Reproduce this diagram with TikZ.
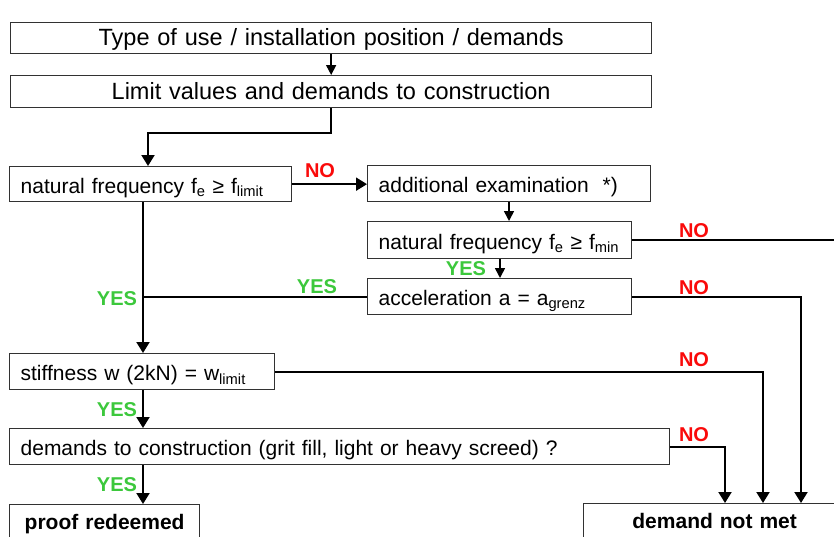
\documentclass[tikz,border=0pt]{standalone}
\usepackage{fontspec}
\setmainfont{Liberation Sans}
\usetikzlibrary{arrows.meta}
\definecolor{nored}{RGB}{250,10,10}
\definecolor{yesgreen}{RGB}{60,200,60}
\definecolor{boxline}{RGB}{50,50,50}
\begin{document}
\begin{tikzpicture}[x=1pt,y=-1pt,
  box/.style={draw=boxline, line width=1.3pt, anchor=north west, inner xsep=11pt, inner ysep=0pt,
    align=left, font=\fontsize{21}{25}\selectfont, text height=21pt, text depth=3pt},
  topbox/.style={box, align=center, font=\fontsize{23.5}{28}\selectfont, text height=19pt, text depth=4pt},
  endbox/.style={box, align=center, font=\fontsize{21}{25}\selectfont\bfseries, text height=17pt, text depth=7pt},
  conn/.style={line width=2pt, -{Triangle[width=13pt,length=11pt]}},
  smallconn/.style={line width=1.6pt, -{Triangle[width=10pt,length=10pt]}},
  plain/.style={line width=2pt},
  nolab/.style={text=nored, font=\fontsize{20}{24}\selectfont\bfseries, inner sep=0pt},
  yeslab/.style={text=yesgreen, font=\fontsize{20}{24}\selectfont\bfseries, inner sep=0pt}]
\useasboundingbox (0,0) rectangle (834,536);
\clip (0,0) rectangle (834,536);
\fill[white] (0,0) rectangle (834,536);

% boxes
\node[topbox, text width=619pt, minimum height=31pt] (t1) at (10,22) {Type of use / installation position / demands};
\node[topbox, text width=619pt, minimum height=32pt] (t2) at (10,75) {Limit values and demands to construction};
\node[box, text width=260pt, minimum height=35pt] (b3) at (9,166) {natural frequency f\textsubscript{e} ≥ f\textsubscript{limit}};
\node[box, text width=261pt, minimum height=36pt] (b4) at (367,165) {additional examination\ \ *)};
\node[box, text width=242pt, minimum height=37pt] (b5) at (367,221) {natural frequency f\textsubscript{e} ≥ f\textsubscript{min}};
\node[box, text width=242pt, minimum height=36pt] (b6) at (367,278) {acceleration a = a\textsubscript{grenz}};
\node[box, text width=243pt, minimum height=36pt] (b7) at (9,353) {stiffness w (2kN) = w\textsubscript{limit}};
\node[box, text width=638pt, minimum height=36pt] (b8) at (9,428) {demands to construction (grit fill, light or heavy screed) ?};
\node[endbox, text width=168pt, minimum height=40pt] (pr) at (9,504) {proof redeemed};
\node[endbox, text width=240pt, minimum height=40pt] (dn) at (583,503) {demand not met};

% helper x positions
\coordinate (yT) at (0,133);
\coordinate (x148) at (148,0);
\coordinate (xV) at (143,0);
\coordinate (x509) at (509,0);
\coordinate (x500) at (500,0);
\coordinate (x725) at (725,0);
\coordinate (x763) at (763,0);
\coordinate (x801) at (801,0);
\coordinate (x841) at (841,0);

% connectors
\draw[smallconn] (t1) -- (t2);
\draw[conn] (t2.south) -- (t2.south |- yT) -- (x148 |- yT) -- (x148 |- b3.north);
\draw[conn] (b3.east) -- (b3.east -| b4.west);
\draw[smallconn] (b4.south -| x509) -- (b5.north -| x509);
\draw[smallconn] (b5.south -| x500) -- (b6.north -| x500);
\draw[conn] (b5.east) -- (b5.east -| x841) -- (x841 |- dn.north);
\draw[plain] (b6.west) -- (b6.west -| xV);
\draw[conn] (b6.east) -- (b6.east -| x801) -- (x801 |- dn.north);
\draw[conn] (b3.south -| xV) -- (b7.north -| xV);
\draw[conn] (b7.east) -- (b7.east -| x763) -- (x763 |- dn.north);
\draw[conn] (b7.south -| xV) -- (b8.north -| xV);
\draw[conn] (b8.east) -- (b8.east -| x725) -- (x725 |- dn.north);
\draw[conn] (b8.south -| xV) -- (pr.north -| xV);

% labels
\node[nolab] (no1) at (320,171) {NO};
\node[nolab] (no2) at (694,231) {NO};
\node[nolab] (no3) at (694,288) {NO};
\node[nolab] (no4) at (694,359.5) {NO};
\node[nolab] (no5) at (694,434.5) {NO};
\node[yeslab] (yes1) at (466,269) {YES};
\node[yeslab] (yes2) at (317,287) {YES};
\node[yeslab] (yes3) at (117,299) {YES};
\node[yeslab] (yes4) at (117,409.5) {YES};
\node[yeslab] (yes5) at (117,484.5) {YES};
\end{tikzpicture}
\end{document}
